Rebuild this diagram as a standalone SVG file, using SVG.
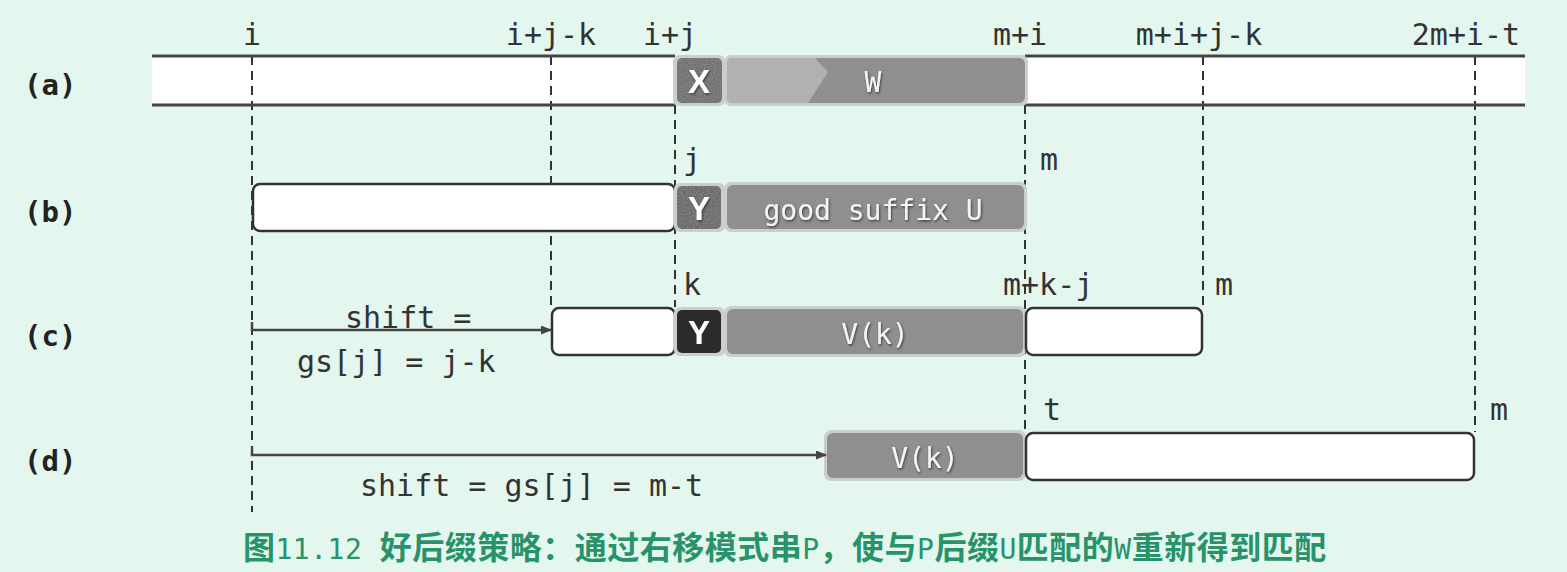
<svg xmlns="http://www.w3.org/2000/svg" width="1567" height="572" viewBox="0 0 1567 572">
<defs>
<style>
.lbl{font-family:"DejaVu Sans Mono","Liberation Mono",monospace;font-size:30px;fill:#333}
.row{font-family:"DejaVu Sans Mono","Liberation Mono",monospace;font-size:29px;font-weight:bold;fill:#222}
.in{font-family:"DejaVu Sans Mono","Liberation Mono",monospace;font-size:28px;fill:#f4f4f4;text-anchor:middle}
.ch{font-family:"Liberation Sans","Noto Sans",sans-serif;font-size:33px;font-weight:bold;fill:#fff;text-anchor:middle}
.dash{stroke:#333;stroke-width:2;stroke-dasharray:9 6;fill:none}
.wbox{fill:#fff;stroke:#333;stroke-width:2.5}
.gbox{fill:#8f8f8f}
.halo{fill:#c9cfcb}
.band{stroke:#444;stroke-width:3;fill:none}
.arr{stroke:#444;stroke-width:2.5;fill:none;marker-end:url(#ah)}
.cap{font-family:"Noto Sans CJK SC","Noto Sans",sans-serif;font-size:32px;font-weight:bold;fill:#28936a;letter-spacing:0.5px}
.capm{font-family:"DejaVu Sans Mono","Liberation Mono",monospace;font-weight:normal;font-size:28px}
</style>
<marker id="ah" markerWidth="11" markerHeight="9" refX="10" refY="4.5" orient="auto" markerUnits="userSpaceOnUse">
<path d="M0,0 L11,4.5 L0,9 Z" fill="#444"/>
</marker>
<filter id="speck" x="0" y="0" width="1" height="1">
<feTurbulence type="fractalNoise" baseFrequency="0.9" numOctaves="2" result="n"/>
<feColorMatrix in="n" type="matrix" values="0 0 0 0 0.5  0 0 0 0 0.5  0 0 0 0 0.5  0 0 0 0.5 0" result="g"/>
<feComposite in="g" in2="SourceGraphic" operator="in" result="m"/>
<feMerge><feMergeNode in="SourceGraphic"/><feMergeNode in="m"/></feMerge>
</filter>
<filter id="sh" x="-10%" y="-10%" width="120%" height="130%">
<feDropShadow dx="1" dy="1.5" stdDeviation="0.8" flood-color="#333" flood-opacity="0.8"/>
</filter>
</defs>
<rect width="1567" height="572" fill="#e4f7ee"/>

<g id="labels-top">
<text class="lbl" x="252" y="45" text-anchor="middle">i</text>
<text class="lbl" x="551" y="45" text-anchor="middle">i+j-k</text>
<text class="lbl" x="670" y="45" text-anchor="middle">i+j</text>
<text class="lbl" x="1020" y="45" text-anchor="middle">m+i</text>
<text class="lbl" x="1199" y="45" text-anchor="middle">m+i+j-k</text>
<text class="lbl" x="1466" y="45" text-anchor="middle">2m+i-t</text>
</g>

<g id="row-labels">
<text class="row" x="24" y="95">(a)</text>
<text class="row" x="24" y="222">(b)</text>
<text class="row" x="24" y="346">(c)</text>
<text class="row" x="24" y="471">(d)</text>
</g>

<g id="guides">
<line class="dash" x1="252" y1="56" x2="252" y2="512"/>
<line class="dash" x1="551" y1="56" x2="551" y2="307"/>
<line class="dash" x1="675" y1="105" x2="675" y2="307"/>
<line class="dash" x1="1025" y1="105" x2="1025" y2="432"/>
<line class="dash" x1="1203" y1="56" x2="1203" y2="307"/>
<line class="dash" x1="1475" y1="56" x2="1475" y2="432"/>
</g>

<g id="row-a">
<rect x="152" y="56" width="523" height="49" fill="#fff"/>
<rect x="1025" y="56" width="500" height="49" fill="#fff"/>
<line class="dash" x1="252" y1="56" x2="252" y2="105"/>
<line class="dash" x1="551" y1="56" x2="551" y2="105"/>
<line class="dash" x1="1203" y1="56" x2="1203" y2="105"/>
<line class="dash" x1="1475" y1="56" x2="1475" y2="105"/>
<line class="band" x1="152" y1="56" x2="675" y2="56"/>
<line class="band" x1="152" y1="105" x2="675" y2="105"/>
<line class="band" x1="1025" y1="56" x2="1525" y2="56"/>
<line class="band" x1="1025" y1="105" x2="1525" y2="105"/>
<rect class="halo" x="673" y="55" width="52" height="51" rx="6"/>
<rect x="677" y="58" width="45" height="45" rx="5" fill="#555" filter="url(#speck)"/>
<text class="ch" x="699" y="93" filter="url(#sh)">X</text>
<rect class="halo" x="724" y="55" width="304" height="51" rx="7"/>
<rect class="gbox" x="727" y="58" width="298" height="45" rx="6"/>
<path d="M732,58 L815,58 L828,72 L808,103 L732,103 Q727,103 727,98 L727,63 Q727,58 732,58 Z" fill="#adadad" filter="url(#speck)"/>
<text class="in" x="873" y="92" filter="url(#sh)">W</text>
</g>

<g id="row-b">
<text class="lbl" x="683" y="170">j</text>
<text class="lbl" x="1040" y="170">m</text>
<rect class="wbox" x="253" y="184" width="422" height="47" rx="7"/>
<rect class="halo" x="674" y="183" width="51" height="49" rx="6"/>
<rect x="677" y="186" width="44" height="43" rx="5" fill="#4a4a4a" filter="url(#speck)"/>
<text class="ch" x="699" y="220" filter="url(#sh)">Y</text>
<rect class="halo" x="724" y="182" width="303" height="50" rx="7"/>
<rect class="gbox" x="727" y="185" width="297" height="44" rx="6"/>
<text class="in" x="873" y="220" filter="url(#sh)">good suffix U</text>
</g>

<g id="row-c">
<text class="lbl" x="683" y="295">k</text>
<text class="lbl" x="1003" y="295">m+k-j</text>
<text class="lbl" x="1215" y="295">m</text>
<rect class="wbox" x="552" y="308" width="123" height="47" rx="7"/>
<rect class="halo" x="674" y="307" width="51" height="49" rx="6"/>
<rect x="677" y="310" width="44" height="43" rx="5" fill="#2b2b2b"/>
<text class="ch" x="699" y="344" filter="url(#sh)">Y</text>
<rect class="halo" x="724" y="306" width="302" height="51" rx="7"/>
<rect class="gbox" x="727" y="309" width="296" height="45" rx="6"/>
<text class="in" x="875" y="344" filter="url(#sh)">V(k)</text>
<rect class="wbox" x="1026" y="308" width="176" height="47" rx="7"/>
<text class="lbl" x="345" y="328">shift =</text>
<text class="lbl" x="297" y="372">gs[j] = j-k</text>
</g>

<g id="row-d">
<text class="lbl" x="1043" y="420">t</text>
<text class="lbl" x="1490" y="420">m</text>
<rect class="halo" x="824" y="430" width="202" height="51" rx="7"/>
<rect class="gbox" x="827" y="433" width="196" height="45" rx="6"/>
<text class="in" x="925" y="468" filter="url(#sh)">V(k)</text>
<rect class="wbox" x="1026" y="433" width="448" height="47" rx="7"/>
<text class="lbl" x="360" y="496">shift = gs[j] = m-t</text>
</g>

<g id="connectors">
<path class="arr" d="M252,322 L252,330 L551,330"/>
<path class="arr" d="M252,447 L252,455 L826,455"/>
</g>

<g id="caption">
<text class="cap" x="243" y="559">图<tspan class="capm">11.12 </tspan>好后缀策略：通过右移模式串<tspan class="capm">P</tspan>，使与<tspan class="capm">P</tspan>后缀<tspan class="capm">U</tspan>匹配的<tspan class="capm">W</tspan>重新得到匹配</text>
</g>
</svg>
